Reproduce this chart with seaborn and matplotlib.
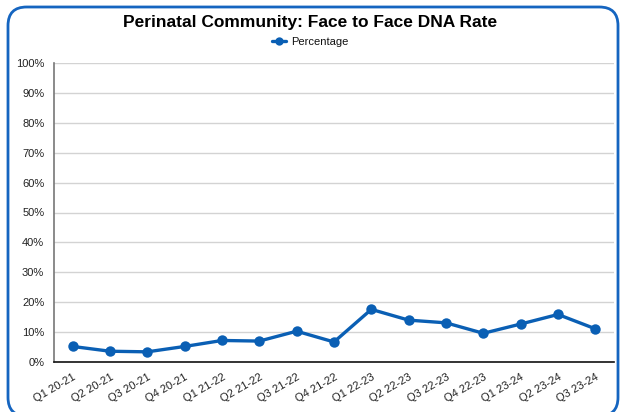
import matplotlib
matplotlib.use("Agg")
import matplotlib.pyplot as plt
import seaborn as sns
import pandas as pd
from matplotlib.patches import FancyBboxPatch
from matplotlib.ticker import PercentFormatter, MultipleLocator

# --- dados ---
quarters = ["Q1 20-21", "Q2 20-21", "Q3 20-21", "Q4 20-21",
            "Q1 21-22", "Q2 21-22", "Q3 21-22", "Q4 21-22",
            "Q1 22-23", "Q2 22-23", "Q3 22-23", "Q4 22-23",
            "Q1 23-24", "Q2 23-24", "Q3 23-24"]
percentage = [5.2, 3.6, 3.4, 5.2, 7.2, 7.0, 10.3, 6.7,
              17.6, 14.0, 13.1, 9.6, 12.7, 15.9, 11.1]

df = pd.DataFrame({"quarter": quarters, "Percentage": percentage})

sns.set_style("white")
plt.rcParams["font.family"] = ["Liberation Sans", "DejaVu Sans"]
plt.rcParams["text.color"] = "#111111"
plt.rcParams["xtick.color"] = "#222222"
plt.rcParams["ytick.color"] = "#222222"

blue = "#0a5fb4"

fig = plt.figure(figsize=(6.2, 4.12), dpi=100)
ax = fig.add_axes([54 / 620, 50 / 412, 560 / 620, 299 / 412])

sns.lineplot(data=df, x="quarter", y="Percentage", ax=ax, color=blue,
             linewidth=2.4, marker="o", markersize=7.5, markeredgewidth=0,
             sort=False, label="Percentage")

ax.set_xlim(-0.5, len(quarters) - 0.5)
ax.set_ylim(0, 100)
ax.yaxis.set_major_locator(MultipleLocator(10))
ax.yaxis.set_major_formatter(PercentFormatter(decimals=0))
ax.grid(axis="y", color="#d3d3d3", linewidth=1)
ax.set_axisbelow(True)
ax.set_xlabel("")
ax.set_ylabel("")

for s in ["top", "right"]:
    ax.spines[s].set_visible(False)
ax.spines["left"].set_color("#777777")
ax.spines["left"].set_linewidth(1.2)
ax.spines["bottom"].set_color("#111111")
ax.spines["bottom"].set_linewidth(1.2)

ax.tick_params(axis="y", length=5, width=1, color="#333333", labelsize=8, pad=2)
ax.tick_params(axis="x", length=6, width=1, color="#555555", labelsize=8, pad=1)
plt.setp(ax.get_xticklabels(), rotation=30, ha="right", rotation_mode="anchor")

leg = ax.legend(loc="center", bbox_to_anchor=(0.5, 1 - 42 / 412), bbox_transform=fig.transFigure,
                frameon=False, fontsize=8, handlelength=1.3, handletextpad=0.4,
                markerscale=0.8)

fig.text(0.5, 1 - 22 / 412, "Perinatal Community: Face to Face DNA Rate",
         ha="center", va="center", fontsize=12.5, fontweight="bold", color="black")

# moldura arredondada azul
border = FancyBboxPatch((8 / 620, -4 / 412), 610 / 620, 409 / 412,
                        boxstyle="round,pad=0,rounding_size=0.03",
                        transform=fig.transFigure, fill=False,
                        edgecolor="#1565c0", linewidth=2, clip_on=False,
                        mutation_aspect=620 / 412)
fig.patches.append(border)

fig.savefig("out.png", dpi=100)
